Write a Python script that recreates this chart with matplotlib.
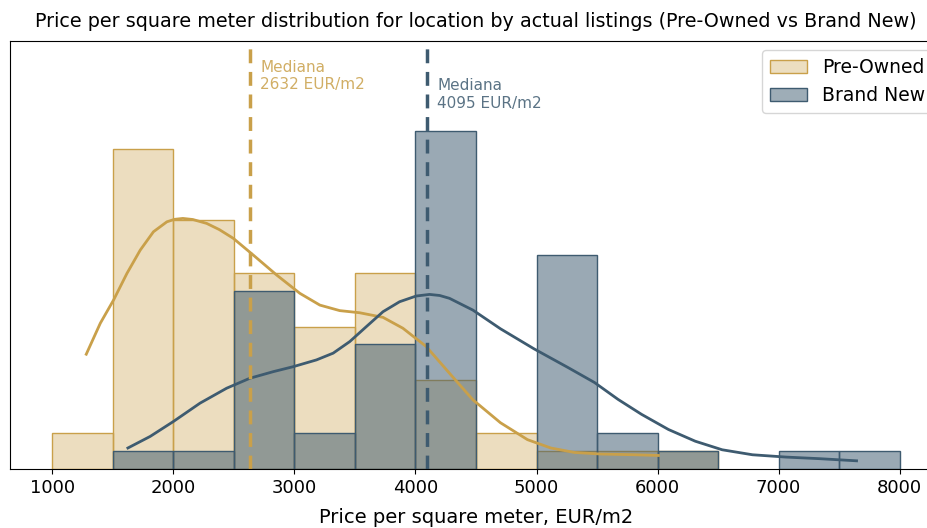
import numpy as np
import matplotlib
matplotlib.use('Agg')
import matplotlib.pyplot as plt
from matplotlib.patches import Patch

gold = '#C9A04A'
blue = '#3E5B70'

# histogram bins (EUR/m2) and counts
edges = np.arange(1000, 8001, 500)
pre_owned = [2, 18, 14, 11, 8, 11, 5, 2, 1, 1, 1, 0, 0, 0]
brand_new = [0, 1, 1, 10, 2, 7, 19, 0, 12, 2, 1, 0, 1, 1]

# kde curves
kde_pre_x = [1280, 1396, 1506, 1616, 1726, 1835, 1946, 2010, 2078, 2160, 2275, 2380, 2495, 2660,
             2853, 3045, 3210, 3374, 3539, 3732, 3896, 4089, 4281, 4474, 4702, 4925, 5118,
             5313, 5535, 5812, 6007]
kde_pre_y = [6.45, 8.19, 9.50, 10.99, 12.30, 13.33, 13.89, 14.03, 14.08, 14.02, 13.80, 13.45, 12.96, 12.02,
             10.90, 9.87, 9.21, 8.90, 8.78, 8.52, 7.91, 6.88, 5.38, 3.89, 2.60, 1.65, 1.18,
             0.93, 0.84, 0.80, 0.76]
kde_new_x = [1624, 1808, 2000, 2220, 2440, 2632, 2825, 2990, 3182, 3320, 3457, 3594,
             3732, 3869, 4006, 4116, 4200, 4281, 4474, 4702, 4980, 5258, 5479, 5674, 5868,
             6090, 6312, 6534, 6784, 7061, 7339, 7644]
kde_new_y = [1.18, 1.83, 2.67, 3.70, 4.54, 5.10, 5.47, 5.75, 6.13, 6.51, 7.16, 8.00,
             8.84, 9.40, 9.72, 9.81, 9.75, 9.59, 8.93, 7.88, 6.75, 5.71, 4.86, 3.91, 3.07,
             2.22, 1.56, 1.08, 0.80, 0.67, 0.58, 0.46]

median_pre = 2632
median_new = 4095

fig = plt.figure(figsize=(9.28, 5.28), dpi=100)
ax = fig.add_axes([10/928, 1 - 469/528, 932/928, 428/528])

left = edges[:-1]
m = np.array(pre_owned) > 0
ax.bar(left[m], np.array(pre_owned)[m], width=500, align='edge',
       color=gold, alpha=0.35, edgecolor='none')
ax.bar(left[m], np.array(pre_owned)[m], width=500, align='edge',
       facecolor='none', edgecolor=gold, linewidth=1)
m = np.array(brand_new) > 0
ax.bar(left[m], np.array(brand_new)[m], width=500, align='edge',
       color=blue, alpha=0.52, edgecolor='none')
ax.bar(left[m], np.array(brand_new)[m], width=500, align='edge',
       facecolor='none', edgecolor=blue, linewidth=1)

ax.plot(kde_pre_x, kde_pre_y, color=gold, lw=2)
ax.plot(kde_new_x, kde_new_y, color=blue, lw=2)

ax.axvline(median_pre, color=gold, ls=(0, (4, 2.5)), lw=2.5)
ax.axvline(median_new, color=blue, ls=(0, (4, 2.5)), lw=2.5)
ax.text(median_pre + 85, 23.0, 'Mediana\n%d EUR/m2' % median_pre, color=gold,
        alpha=0.85, fontsize=11, va='top', ha='left')
ax.text(median_new + 85, 21.95, 'Mediana\n%d EUR/m2' % median_new, color=blue,
        alpha=0.85, fontsize=11, va='top', ha='left')

handles = [Patch(facecolor='#ECDEC0', edgecolor=gold, label='Pre-Owned'),
           Patch(facecolor='#9EADB7', edgecolor=blue, label='Brand New')]
ax.legend(handles=handles, loc='upper right', fontsize=13.5)

ax.set_xlim(650, 8350)
ax.set_ylim(0, 24.05)
ax.set_yticks([])
ax.set_xticks(range(1000, 8001, 1000))
ax.tick_params(axis='x', labelsize=13)
ax.set_xlabel('Price per square meter, EUR/m2', fontsize=14, labelpad=8)
ax.set_title('Price per square meter distribution for location by actual listings (Pre-Owned vs Brand New)',
             fontsize=13.8, x=(476 - 10) / 932, pad=10)

fig.savefig('out.png', dpi=100)
